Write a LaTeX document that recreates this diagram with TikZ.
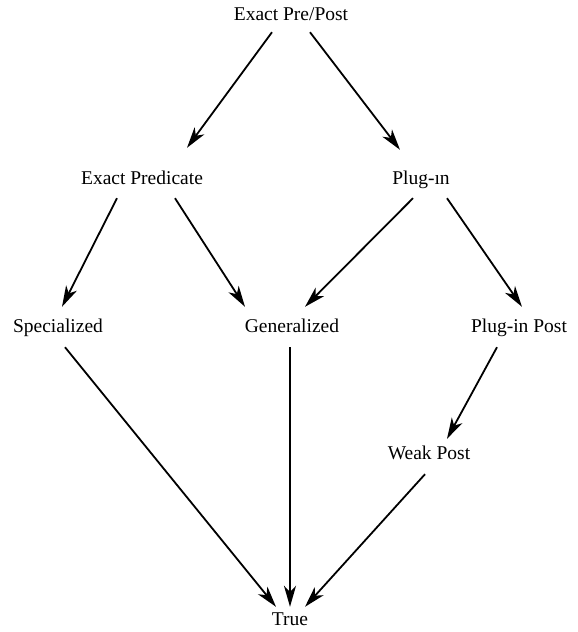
\documentclass[tikz,border=0pt]{standalone}
\usepackage{fontspec}
\setmainfont{Liberation Serif}
\usetikzlibrary{arrows.meta}
\begin{document}
\begin{tikzpicture}[
  x=1pt, y=-1pt,
  every node/.style={font=\fontsize{19.5}{22}\selectfont, inner sep=0pt,
    text height=13pt, text depth=4pt},
  arr/.style={line width=1.8pt, -{Stealth[length=21pt,width=12pt,inset=6pt]}}
]
\useasboundingbox (0,0) rectangle (578,632);
% levels
\node (pre)   at (291,16)  {Exact Pre/Post};
\node (pred)  at (142,180) {Exact Predicate};
\node (plug)  at (421,180) {Plug-ın};
\node (spec)  at (58,328)  {Specialized};
\node (gen)   at (292,328) {Generalized};
\node (ppost) at (519,328) {Plug-in Post};
\node (weak)  at (429,455) {Weak Post};
\node (true)  at (290,621) {True};
% edges
\draw[arr] ([xshift=-19pt,yshift=-7.5pt]pre.south) -- ([xshift=45pt,yshift=23.5pt]pred.north);
\draw[arr] ([xshift=19pt,yshift=-7.5pt]pre.south) -- ([xshift=-21pt,yshift=21.5pt]plug.north);
\draw[arr] ([xshift=-25pt,yshift=-9.5pt]pred.south) -- ([xshift=4pt,yshift=12.5pt]spec.north);
\draw[arr] ([xshift=33pt,yshift=-9.5pt]pred.south) -- ([xshift=-47pt,yshift=12.5pt]gen.north);
\draw[arr] ([xshift=-8pt,yshift=-9.5pt]plug.south) -- ([xshift=13pt,yshift=12.5pt]gen.north);
\draw[arr] ([xshift=26pt,yshift=-9.5pt]plug.south) -- ([xshift=3pt,yshift=12.5pt]ppost.north);
\draw[arr] ([xshift=7pt,yshift=-10.5pt]spec.south) -- ([xshift=-14pt,yshift=5.5pt]true.north);
\draw[arr] ([xshift=-2pt,yshift=-10.5pt]gen.south) -- ([xshift=0pt,yshift=5.5pt]true.north);
\draw[arr] ([xshift=-22pt,yshift=-10.5pt]ppost.south) -- ([xshift=18pt,yshift=7.5pt]weak.north);
\draw[arr] ([xshift=-4pt,yshift=-10.5pt]weak.south) -- ([xshift=15pt,yshift=5.5pt]true.north);
\end{tikzpicture}
\end{document}
